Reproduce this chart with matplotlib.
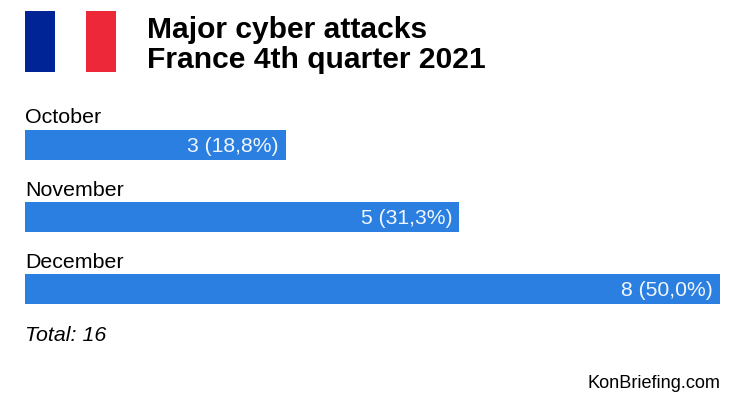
import matplotlib
matplotlib.use("Agg")
import matplotlib.pyplot as plt
from matplotlib.patches import Rectangle

plt.rcParams['font.family'] = ['Liberation Sans', 'DejaVu Sans']

months = ["October", "November", "December"]
counts = [3, 5, 8]
labels = ["3 (18,8%)", "5 (31,3%)", "8 (50,0%)"]
title_lines = "Major cyber attacks\nFrance 4th quarter 2021"
total_text = "Total: 16"
source_text = "KonBriefing.com"
flag_colors = ["#002395", "#ffffff", "#ED2939"]

W, H = 747, 394
fig = plt.figure(figsize=(W/100, H/100), dpi=100, facecolor="white")

ax = fig.add_axes([25/W, 1-304/H, 695/W, (304-130)/H])
ax.set_xlim(0, 8)
ax.set_ylim(2.0+0.2069, -0.2069)
ax.axis("off")
ys = range(len(months))
ax.barh(list(ys), counts, height=0.4138, color="#2B7FE0")
for y, c, l, m in zip(ys, counts, labels, months):
    ax.annotate(l, (c, y), xytext=(-7, -1.5), textcoords="offset pixels", ha="right", va="center",
                color="#F2F7FD", fontsize=15.2)
    ax.annotate(m, (0, y), xytext=(0, 17.5), textcoords="offset pixels", ha="left", va="bottom",
                color="black", fontsize=15.4)

fx = 25; fw = 91; fy = 11; fh = 61
for i, col in enumerate(flag_colors):
    fig.patches.append(Rectangle(((fx+i*fw/3)/W, 1-(fy+fh)/H), (fw/3)/W, fh/H,
                                 transform=fig.transFigure, color=col, lw=0))

fig.text(147/W, 1-45/H, title_lines, fontsize=21.6, fontweight="bold", ha="left", va="center",
         linespacing=1.13, color="black")
fig.text(25/W, 1-335.5/H, total_text, fontsize=15.4, style="italic", ha="left", va="center", color="black")
fig.text(720.5/W, 1-383/H, source_text, fontsize=13.1, ha="right", va="center", color="black")

fig.savefig("out.png", dpi=100)
